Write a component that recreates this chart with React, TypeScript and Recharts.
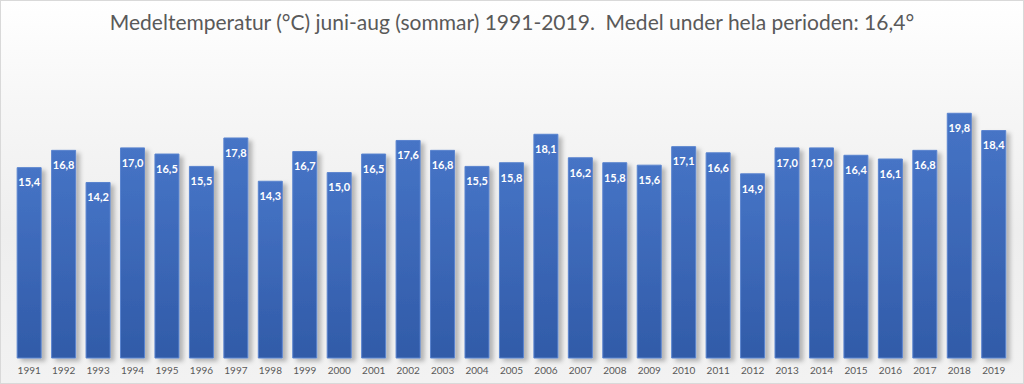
import { BarChart, Bar, XAxis, YAxis, LabelList } from "recharts";

const years = [
    "1991", "1992", "1993", "1994", "1995", "1996", "1997", "1998", "1999", "2000",
    "2001", "2002", "2003", "2004", "2005", "2006", "2007", "2008", "2009", "2010",
    "2011", "2012", "2013", "2014", "2015", "2016", "2017", "2018", "2019",
];
const temps = [
    15.4, 16.8, 14.2, 17.0, 16.5, 15.5, 17.8, 14.3, 16.7, 15.0,
    16.5, 17.6, 16.8, 15.5, 15.8, 18.1, 16.2, 15.8, 15.6, 17.1,
    16.6, 14.9, 17.0, 17.0, 16.4, 16.1, 16.8, 19.8, 18.4,
];

const data = years.map((y, i) => ({ year: y, temp: temps[i] }));

const fmt = (v: any) => Number(v).toFixed(1).replace(".", ",");

const App = () => {
    return (
        <div
            style={{
                width: 1024,
                height: 384,
                position: "relative",
                boxSizing: "border-box",
                border: "1px solid #d9d9d9",
                background: "linear-gradient(to bottom, #ffffff 0%, #f7f7f7 25%, #eeeeee 60%, #f2f2f2 100%)",
                fontFamily: "Lato, 'Open Sans', sans-serif",
            }}
        >
            <style>{`body{margin:0}`}</style>
            <div
                style={{
                    position: "absolute",
                    top: 8,
                    left: 0,
                    width: "100%",
                    textAlign: "center",
                    fontSize: 21,
                    color: "#595959",
                }}
            >
                Medeltemperatur (°C) juni-aug (sommar) 1991-2019.&nbsp; Medel under hela perioden: 16,4°
            </div>
            <BarChart
                width={1022}
                height={382}
                data={data}
                margin={{ top: 48, right: 12, left: 11, bottom: 5 }}
                barCategoryGap="15%"
                style={{ position: "absolute", top: 0, left: 0 }}
            >
                <defs>
                    <linearGradient id="barGrad" x1="0" y1="0" x2="0" y2="1">
                        <stop offset="0%" stopColor="#4674c6" />
                        <stop offset="100%" stopColor="#315ba8" />
                    </linearGradient>
                    <filter id="shadow" x="-20%" y="-10%" width="160%" height="130%">
                        <feDropShadow dx="4" dy="3" stdDeviation="2" floodColor="#000" floodOpacity="0.25" />
                    </filter>
                </defs>
                <XAxis
                    dataKey="year"
                    axisLine={false}
                    tickLine={false}
                    tickSize={0}
                    tickMargin={9}
                    height={20}
                    interval={0}
                    tick={{ fontSize: 10, fill: "#595959" }}
                />
                <YAxis hide domain={[0, 25]} />
                <Bar
                    dataKey="temp"
                    fill="url(#barGrad)"
                    stroke="#5a84cf"
                    strokeWidth={1}
                    filter="url(#shadow)"
                    isAnimationActive={false}
                >
                    <LabelList
                        dataKey="temp"
                        position="insideTop"
                        offset={11}
                        formatter={fmt}
                        style={{ fill: "#ffffff", fontSize: 11, fontWeight: 700 }}
                    />
                </Bar>
            </BarChart>
        </div>
    );
};

export default App;
